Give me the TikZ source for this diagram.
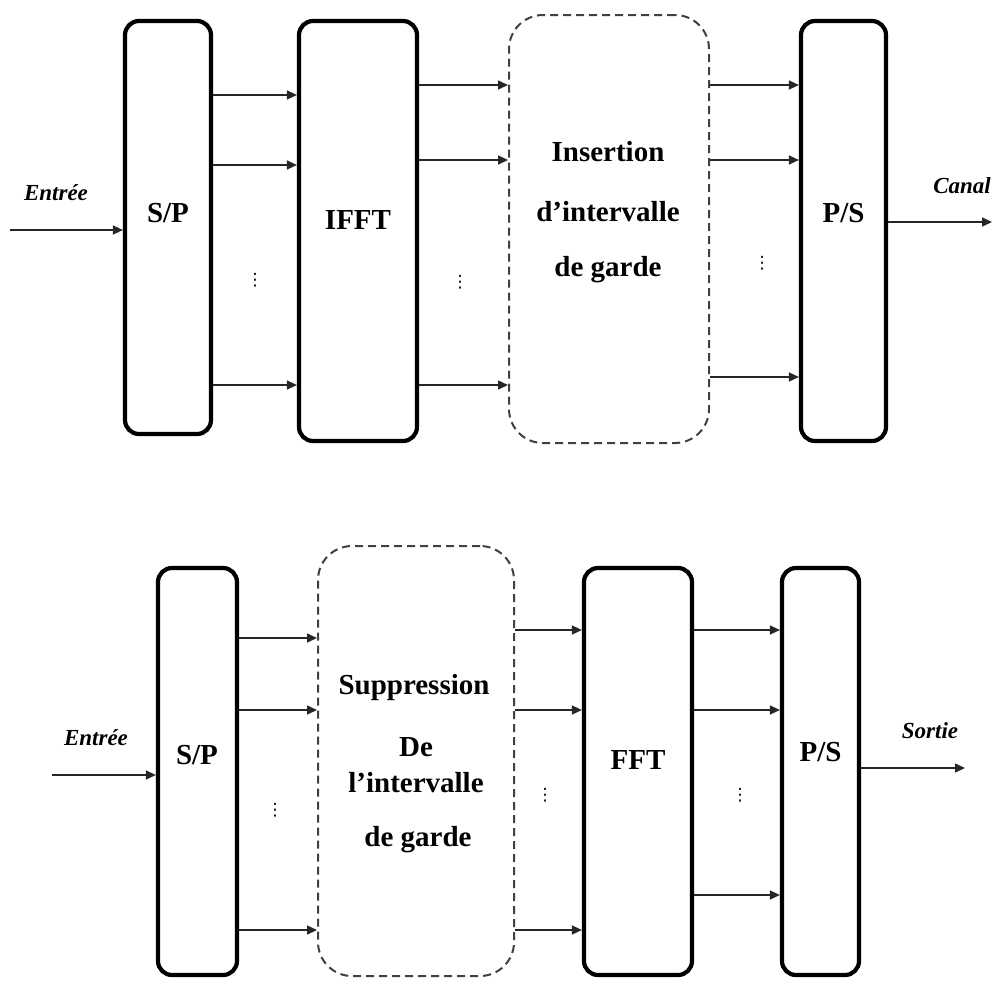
\documentclass[tikz,border=0pt]{standalone}
\usepackage{fontspec}
\setmainfont{Liberation Serif}
\newfontfamily\dotsfont{DejaVu Sans}
\usetikzlibrary{arrows.meta}
\begin{document}
\begin{tikzpicture}[x=1pt,y=-1pt,
  block/.style={draw=black,line width=4.2pt,rounded corners=14pt,inner sep=0pt},
  dblock/.style={draw=black!75,line width=2pt,dash pattern=on 8pt off 5pt,rounded corners=34pt,inner sep=0pt},
  btext/.style={font=\fontsize{29}{33}\selectfont\bfseries,inner sep=0pt},
  io/.style={font=\fontsize{23}{27}\selectfont\bfseries\itshape,inner sep=0pt},
  arr/.style={draw=black!85,line width=1.5pt,-{Triangle[length=10pt,width=9pt]}},
  vdots/.style={font=\dotsfont\fontsize{17}{17}\selectfont,inner sep=0pt}]
\useasboundingbox (0,0) rectangle (992,986);

% ---------- emission chain ----------
\node[block,minimum width=86pt,minimum height=413pt] (sp1) at (168,227.5) {};
\node[block,minimum width=118pt,minimum height=420pt] (ifft) at (358,231) {};
\node[dblock,minimum width=200pt,minimum height=428pt] (gi) at (609,229) {};
\node[block,minimum width=85pt,minimum height=420pt] (ps1) at (843.5,231) {};

\node[btext] (tsp1) at (168,213) {S/P};
\node[btext] (tifft) at (358,220) {IFFT};
\node[btext] (tgi1) at (608,152) {Insertion};
\node[btext] (tgi2) at (608,212) {d’intervalle};
\node[btext] (tgi3) at (608,270) {de garde};
\node[btext] (tps1) at (843.5,213) {P/S};

\node[io] (in1) at (56,193) {Entrée};
\node[io] (out1) at (962,186) {Canal};
\coordinate (src1) at (10,230);
\coordinate (dst1) at (992,222);
\draw[arr] (src1) -- (sp1.west |- src1);
\draw[arr] (ps1.east |- dst1) -- (dst1);

\foreach \y in {95,165,385} {\coordinate (a) at (0,\y); \draw[arr] (sp1.east |- a) -- (ifft.west |- a);}
\foreach \y in {85,160,385} {\coordinate (a) at (0,\y); \draw[arr] (ifft.east |- a) -- (gi.west |- a);}
\foreach \y in {85,160,377} {\coordinate (a) at (0,\y); \draw[arr] (gi.east |- a) -- (ps1.west |- a);}

\node[vdots] (d1) at (255,280) {⋮};
\node[vdots] (d2) at (460,282) {⋮};
\node[vdots] (d3) at (762,263) {⋮};

% ---------- reception chain ----------
\node[block,minimum width=79pt,minimum height=407pt] (sp2) at (197.5,771.5) {};
\node[dblock,minimum width=196pt,minimum height=430pt] (sgi) at (416,761) {};
\node[block,minimum width=108pt,minimum height=407pt] (fft) at (638,771.5) {};
\node[block,minimum width=77pt,minimum height=407pt] (ps2) at (820.5,771.5) {};

\node[btext] (tsp2) at (197,755) {S/P};
\node[btext] (tsg1) at (414,688) {Suppression};
\node[btext] (tsg2) at (416,747) {De};
\node[btext] (tsg3) at (416,783) {l’intervalle};
\node[btext] (tsg4) at (418,840) {de garde};
\node[btext] (tfft) at (638,760) {FFT};
\node[btext] (tps2) at (820.5,752) {P/S};

\node[io] (in2) at (96,738) {Entrée};
\node[io] (out2) at (930,731) {Sortie};
\coordinate (src2) at (52,775);
\coordinate (dst2) at (965,768);
\draw[arr] (src2) -- (sp2.west |- src2);
\draw[arr] (ps2.east |- dst2) -- (dst2);

\foreach \y in {638,710,930} {\coordinate (a) at (0,\y); \draw[arr] (sp2.east |- a) -- (sgi.west |- a);}
\foreach \y in {630,710,930} {\coordinate (a) at (0,\y); \draw[arr] (sgi.east |- a) -- (fft.west |- a);}
\foreach \y in {630,710,895} {\coordinate (a) at (0,\y); \draw[arr] (fft.east |- a) -- (ps2.west |- a);}

\node[vdots] (d4) at (275,810) {⋮};
\node[vdots] (d5) at (545,795) {⋮};
\node[vdots] (d6) at (740,795) {⋮};
\end{tikzpicture}
\end{document}
